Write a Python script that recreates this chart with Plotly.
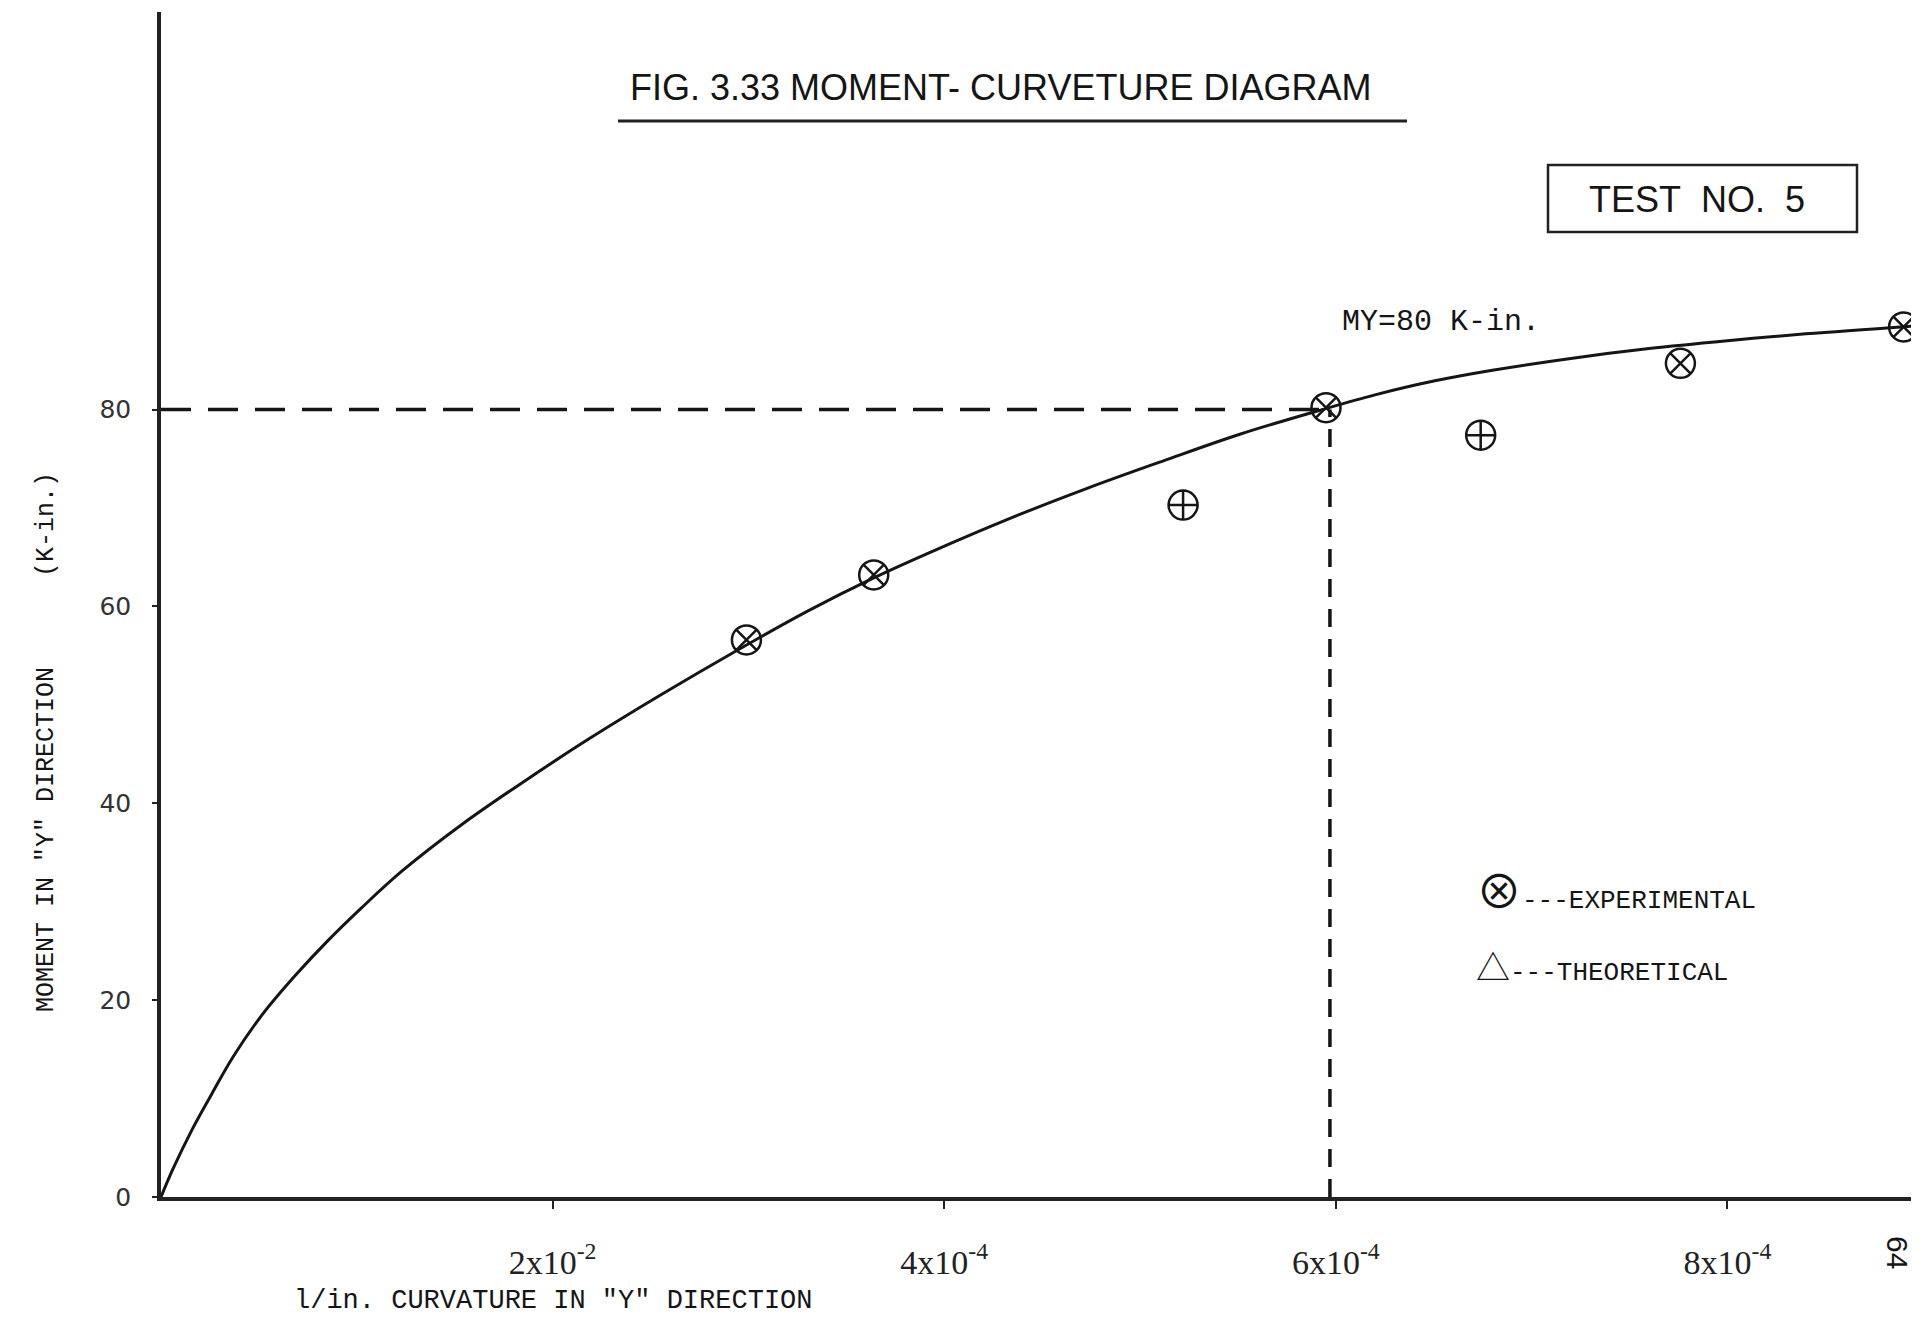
import plotly.graph_objects as go

# curvature in units of 1e-4 1/in., moment in K-in.
curve_x = [0, 0.06, 0.16, 0.26, 0.37, 0.52, 0.69, 0.85, 1.02, 1.23, 1.54, 1.86, 2.19, 2.56,
           2.93, 3.30, 3.64, 3.94, 4.33, 4.73, 5.12, 5.51, 5.93, 6.20, 6.50, 6.80, 7.20,
           7.60, 8.00, 8.40, 8.95]
curve_y = [0, 2.8, 6.9, 10.5, 14.3, 18.6, 22.6, 26.0, 29.3, 33.1, 37.9, 42.3, 46.6, 51.1,
           55.4, 59.5, 62.9, 65.6, 68.9, 72.0, 74.8, 77.5, 80.0, 81.5, 82.9, 84.0, 85.2,
           86.2, 87.0, 87.7, 88.5]

exp_x = [2.99, 3.64, 5.22, 5.95, 6.74, 7.76, 8.90]
exp_y = [56.6, 63.2, 70.3, 80.2, 77.4, 84.7, 88.4]
exp_symbols = ["circle-x-open", "circle-x-open", "circle-cross-open", "circle-x-open",
               "circle-cross-open", "circle-x-open", "circle-x-open"]

yield_moment = 80
yield_curv = 5.97

x_ticks = [2, 4, 6, 8]
x_ticktext = ["2x10<sup>-2</sup>", "4x10<sup>-4</sup>", "6x10<sup>-4</sup>", "8x10<sup>-4</sup>"]
y_ticks = [0, 20, 40, 60, 80]

# the page body has an 8px margin, so the figure is shifted by that much
PAD = 8
FW, FH = 1919 - PAD, 1321 - PAD
# plot area in page pixels
PL, PR, PT, PB = 161, 1912, 12, 1197
X_UNIT = 195.8  # page px per 1e-4


def px(x):
    return (x - PL) / (PR - PL)


def py(y):
    return (PB - y) / (PB - PT)


INK = "#151515"
MONO = "Liberation Mono"
SYM = "Noto Sans CJK JP, DejaVu Sans"

fig = go.Figure()

# yield lines
fig.add_trace(go.Scatter(x=[0, yield_curv], y=[yield_moment, yield_moment], mode="lines",
                         line=dict(color=INK, width=3.5, dash="30px,17px")))
fig.add_trace(go.Scatter(x=[yield_curv, yield_curv], y=[0, yield_moment], mode="lines",
                         line=dict(color=INK, width=3.5, dash="18px,12px")))

fig.add_trace(go.Scatter(x=curve_x, y=curve_y, mode="lines",
                         line=dict(color=INK, width=3, shape="spline", smoothing=1.0)))

fig.add_trace(go.Scatter(x=exp_x, y=exp_y, mode="markers",
                         marker=dict(symbol=exp_symbols, size=29, color=INK,
                                     line=dict(color=INK, width=2.5))))

fig.update_xaxes(range=[0, (PR - PL) / X_UNIT], showgrid=False, zeroline=False, showline=True,
                 linewidth=3.5, linecolor="#222", ticks="outside", ticklen=8, tickwidth=2,
                 tickcolor="#222", tickvals=x_ticks, ticktext=x_ticktext,
                 tickfont=dict(family="Liberation Serif", size=34, color="#222"),
                 ticklabelstandoff=24)
fig.update_yaxes(range=[0, 120.4], showgrid=False, zeroline=False, showline=True,
                 linewidth=3.5, linecolor="#222", ticks="outside", ticklen=5, tickwidth=2,
                 tickcolor="#222", tickvals=y_ticks,
                 tickfont=dict(family="DejaVu Sans", size=25, color="#333"),
                 ticklabelstandoff=16)

annots = [
    dict(x=px(1000), y=py(88), text="FIG. 3.33 MOMENT- CURVETURE DIAGRAM",
         font=dict(family="Liberation Sans", size=36, color=INK)),
    dict(x=px(1697), y=py(199), text="TEST\u00a0\u00a0NO.\u00a0\u00a05",
         font=dict(family="Liberation Sans", size=36, color=INK)),
    dict(x=px(1340), y=py(322), text="MY=80 K-in.", xanchor="left",
         font=dict(family=MONO, size=30, color=INK)),
    dict(x=px(1474), y=py(888), xanchor="left",
         text=f'<span style="font-family:{SYM};font-size:46px">\u2297</span>---EXPERIMENTAL',
         font=dict(family=MONO, size=26, color=INK)),
    dict(x=px(1474), y=py(965), xanchor="left",
         text=f'<span style="font-family:{SYM};font-size:34px">\u25b3</span>---THEORETICAL',
         font=dict(family=MONO, size=26, color=INK)),
    dict(x=px(292), y=py(1301), xanchor="left", text='l/in. CURVATURE IN "Y" DIRECTION',
         font=dict(family=MONO, size=27, color=INK)),
    dict(x=px(46), y=py(742), textangle=-90,
         text='MOMENT IN "Y" DIRECTION' + "\u00a0" * 6 + "(K-in.)",
         font=dict(family=MONO, size=25, color=INK)),
    dict(x=px(1898), y=py(1252), textangle=90, text="64",
         font=dict(family="Liberation Sans", size=30, color=INK)),
]
for a in annots:
    a.setdefault("xanchor", "center")
    a.update(xref="paper", yref="paper", showarrow=False, yanchor="middle")

fig.update_layout(
    width=FW, height=FH,
    margin=dict(l=PL - PAD, r=FW - (PR - PAD), t=PT - PAD, b=FH - (PB - PAD)),
    paper_bgcolor="white", plot_bgcolor="white",
    showlegend=False, hovermode=False,
    annotations=annots,
    shapes=[
        dict(type="line", xref="paper", yref="paper", x0=px(618), x1=px(1407),
             y0=py(121), y1=py(121), line=dict(color="#222", width=3)),
        dict(type="rect", xref="paper", yref="paper", x0=px(1548), x1=px(1857),
             y0=py(232), y1=py(165), line=dict(color="#222", width=2.5)),
    ],
)

fig.write_html("out.html", config={"displayModeBar": False})
